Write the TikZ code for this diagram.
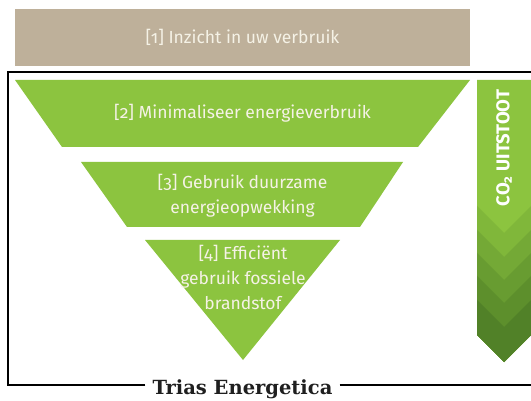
\documentclass[tikz,border=0pt]{standalone}
\usepackage{fontspec}
\setmainfont{Fira Sans}[Numbers=OldStyle]
\newfontfamily\slabfont{DejaVu Serif}
\usetikzlibrary{positioning}
\definecolor{beige}{HTML}{BEB09A}
\definecolor{leaf}{HTML}{8CC43F}
\definecolor{darkleaf}{HTML}{4A7A25}
\definecolor{cream}{HTML}{F5F2E6}
\begin{document}
\begin{tikzpicture}[
    x=1pt, y=-1pt,
    every node/.style={font=\fontsize{17.5}{25}\selectfont, text=cream, align=center},
    stepfill/.style={fill=leaf},
    frame/.style={line width=2pt, black}
]
\useasboundingbox (0,0) rectangle (531,401);
\fill[white] (0,0) rectangle (531,401);

% stap 1
\fill[beige] (15,9) rectangle (470,66);
\node (inzicht) at (242.5,37.5) {[1] Inzicht in uw verbruik};

% omkaderde piramide
\node[font=\slabfont\bfseries\fontsize{19.5}{20}\selectfont, text=black!88, inner sep=7pt] (titel) at (242.5,389) {Trias Energetica};
\coordinate (hoek) at (8,385);
\draw[frame] (titel.west |- hoek) -- (hoek) -- (8,72) -- (534,72);
\draw[frame] (titel.east |- hoek) -- (534,385);

% stappen 2 t/m 4
\fill[stepfill] (15,80) -- (470,80) -- (418,147) -- (62,147) -- cycle;
\node (minimaliseer) at (242.5,113.5) {[2] Minimaliseer energieverbruik};

\fill[stepfill] (81,162) -- (403,162) -- (360,227) -- (127,227) -- cycle;
\node (duurzaam) at (242.5,195.5) {[3] Gebruik duurzame\\energieopwekking};

\fill[stepfill] (145,240) -- (340,240) -- (243,360) -- cycle;
\node (fossiel) at (243,277.5) {[4] Efficiënt\\gebruik fossiele\\brandstof};

% CO2 pijl
\fill[leaf] (477,80) -- (531,80) -- (531,335) -- (504,362) -- (477,335) -- cycle;
\foreach \tip/\mix in {233/82, 257/64, 280/46, 303/28, 327/10}
  \fill[leaf!\mix!darkleaf] (477,\tip-27) -- (504,\tip) -- (531,\tip-27)
     -- (531,335) -- (504,362) -- (477,335) -- cycle;
\node[rotate=90, font=\bfseries\fontsize{18.5}{19}\selectfont, text=white] (uitstoot) at (504,148) {CO\textsubscript{2} UITSTOOT};

\end{tikzpicture}
\end{document}
